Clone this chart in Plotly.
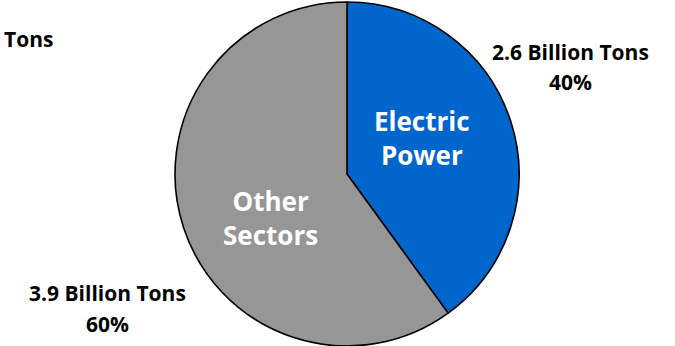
import plotly.graph_objects as go

labels = ["Electric Power", "Other Sectors"]
values = [2.6, 3.9]
shares = ["40%", "60%"]
colors = ["#0066CC", "#969696"]
inner_text = ["Electric<br>Power", "Other<br>Sectors"]

W, H = 675, 346
fig = go.Figure(go.Pie(
    labels=labels, values=values, sort=False, direction="clockwise", rotation=0,
    marker=dict(colors=colors, line=dict(color="black", width=1.6)),
    textinfo="none", hoverinfo="label+value", showlegend=False,
    domain=dict(x=[175 / W, 519 / W], y=[0, 344 / H]),
))

fnt = "Open Sans"
def ann(x, y, text, size, color="black"):
    fig.add_annotation(x=x / W, y=1 - y / H, xref="paper", yref="paper",
                       text=text, showarrow=False, xanchor="center", yanchor="middle",
                       font=dict(family=fnt, size=size, color=color))

ann(29, 39, "<b>Tons</b>", 21)
ann(570, 52, f"<b>{values[0]} Billion Tons</b>", 21)
ann(570, 82, f"<b>{shares[0]}</b>", 21)
ann(107, 293, f"<b>{values[1]} Billion Tons</b>", 21)
ann(107, 324, f"<b>{shares[1]}</b>", 21)
ann(422, 138, f"<b>{inner_text[0]}</b>", 26, "white")
ann(270, 218, f"<b>{inner_text[1]}</b>", 26, "white")

fig.update_layout(width=W, height=H, margin=dict(l=0, r=0, t=0, b=0),
                  paper_bgcolor="white", plot_bgcolor="white")
fig.write_html("out.html")
